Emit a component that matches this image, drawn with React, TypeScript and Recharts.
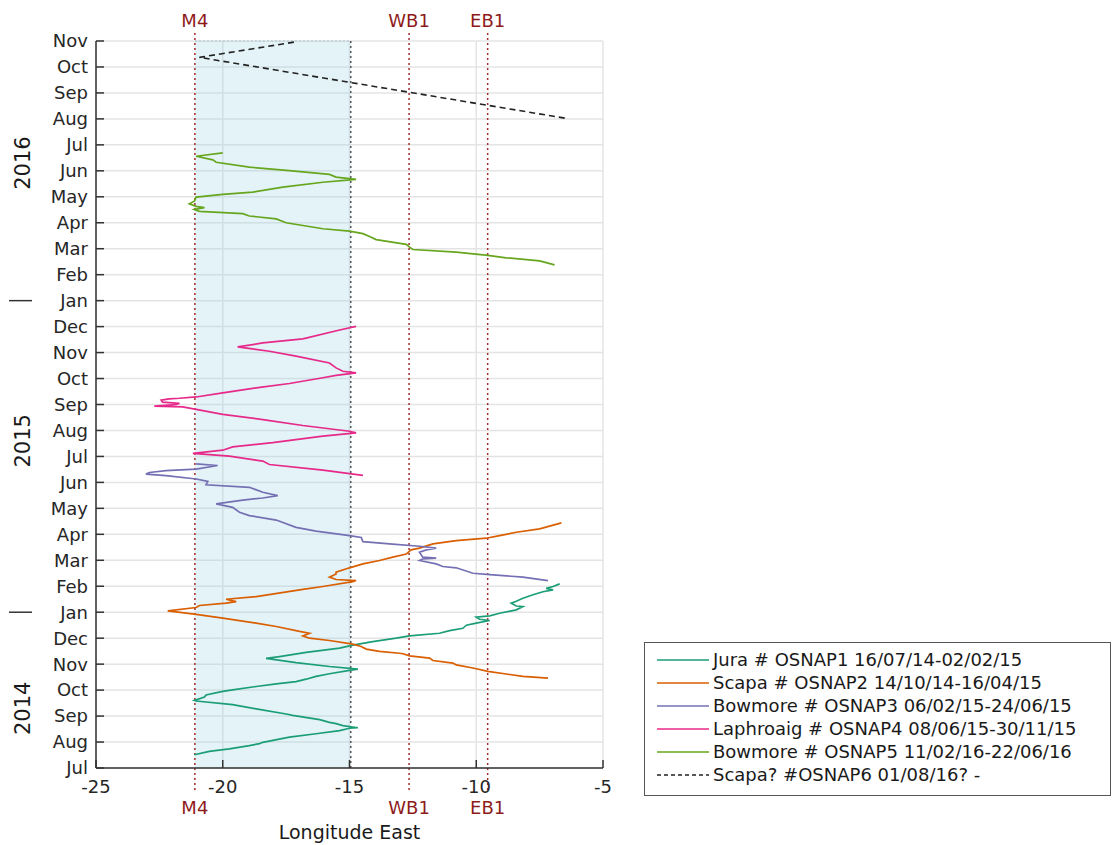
import React from "react";
import {
  ComposedChart,
  Line,
  XAxis,
  YAxis,
  CartesianGrid,
  ReferenceArea,
  ReferenceLine,
} from "recharts";

type Pt = [number, number]; // [longitude east, months since 1 Jul 2014]

const lonTicks = [-25, -20, -15, -10, -5];
const monthTicks = [
  0, 1, 2, 3, 4, 5, 6, 7, 8, 9, 10, 11, 12, 13, 14, 15, 16, 17, 18, 19, 20, 21,
  22, 23, 24, 25, 26, 27, 28,
];
const monthLabels = [
  "Jul", "Aug", "Sep", "Oct", "Nov", "Dec", "Jan", "Feb", "Mar", "Apr", "May",
  "Jun", "Jul", "Aug", "Sep", "Oct", "Nov", "Dec", "Jan", "Feb", "Mar", "Apr",
  "May", "Jun", "Jul", "Aug", "Sep", "Oct", "Nov",
];

const yearLabels = [
  { text: "2014", m: 2.3 },
  { text: "2015", m: 12.6 },
  { text: "2016", m: 23.3 },
];
const yearBreaks = [6, 18];

const moorings = [
  { name: "M4", lon: -21.1 },
  { name: "WB1", lon: -12.65 },
  { name: "EB1", lon: -9.55 },
];
const shelfWest = -21.1;
const shelfEast = -14.95;

const jura: Pt[] = [
  [-21.12, 0.51], [-20.53, 0.64], [-19.74, 0.74], [-18.95, 0.86], [-18.55, 0.94],
  [-18.42, 0.99], [-17.37, 1.19], [-16.32, 1.32], [-15.39, 1.44], [-15.0, 1.53],
  [-14.67, 1.55], [-15.26, 1.63], [-15.53, 1.71], [-15.79, 1.76], [-16.18, 1.86],
  [-17.24, 2.03], [-17.5, 2.08], [-18.68, 2.28], [-19.61, 2.44], [-21.05, 2.58],
  [-21.12, 2.6], [-20.72, 2.73], [-20.66, 2.81], [-20.0, 2.95], [-19.61, 3.01],
  [-18.68, 3.14], [-17.89, 3.24], [-17.11, 3.33], [-16.71, 3.42], [-16.32, 3.53],
  [-15.79, 3.63], [-15.0, 3.76], [-14.67, 3.81], [-15.79, 3.91], [-17.11, 4.06],
  [-18.29, 4.22], [-17.76, 4.29], [-16.71, 4.45], [-15.39, 4.62], [-14.87, 4.73],
  [-14.08, 4.87], [-13.16, 5.0], [-12.63, 5.09], [-11.45, 5.19], [-11.05, 5.29],
  [-10.53, 5.38], [-10.39, 5.5], [-10.0, 5.58], [-9.47, 5.68], [-9.87, 5.73],
  [-10.0, 5.81], [-9.47, 5.86], [-9.08, 5.96], [-8.42, 6.09], [-8.16, 6.22],
  [-8.42, 6.24], [-8.62, 6.35], [-8.42, 6.42], [-8.16, 6.54], [-7.76, 6.67],
  [-7.37, 6.79], [-6.97, 6.86], [-7.24, 6.92], [-6.97, 6.99], [-6.71, 7.09],
];

const scapa: Pt[] = [
  [-7.17, 3.46], [-8.16, 3.53], [-8.82, 3.62], [-9.54, 3.72], [-10.13, 3.85],
  [-10.79, 3.97], [-10.92, 4.04], [-11.71, 4.14], [-11.84, 4.23], [-12.63, 4.32],
  [-12.89, 4.4], [-13.03, 4.42], [-13.82, 4.49], [-14.34, 4.58], [-14.54, 4.68],
  [-14.87, 4.77], [-15.79, 4.91], [-16.58, 5.0], [-16.84, 5.09], [-16.58, 5.19],
  [-16.97, 5.26], [-17.89, 5.45], [-18.68, 5.58], [-20.0, 5.77], [-21.05, 5.92],
  [-22.17, 6.05], [-21.05, 6.18], [-20.92, 6.26], [-19.87, 6.35], [-19.47, 6.41],
  [-19.87, 6.5], [-18.68, 6.6], [-16.84, 6.88], [-16.05, 6.99], [-14.87, 7.18],
  [-14.74, 7.22], [-15.53, 7.26], [-15.79, 7.35], [-15.53, 7.47], [-15.53, 7.54],
  [-15.0, 7.71], [-14.47, 7.86], [-13.82, 7.99], [-13.29, 8.12], [-12.76, 8.24],
  [-12.57, 8.4], [-12.24, 8.47], [-11.71, 8.63], [-10.79, 8.76], [-9.61, 8.85],
  [-9.08, 8.95], [-8.42, 9.08], [-7.5, 9.21], [-6.64, 9.44],
];

const bowmore3: Pt[] = [
  [-7.17, 7.22], [-8.16, 7.35], [-9.47, 7.45], [-10.13, 7.5], [-10.79, 7.71],
  [-11.32, 7.76], [-11.58, 7.86], [-12.24, 7.99], [-12.11, 8.05], [-11.58, 8.08],
  [-12.11, 8.12], [-12.24, 8.31], [-11.97, 8.4], [-11.58, 8.47], [-12.24, 8.54],
  [-13.42, 8.63], [-14.47, 8.72], [-14.54, 8.88], [-15.0, 8.95], [-16.32, 9.12],
  [-17.11, 9.27], [-17.89, 9.55], [-18.95, 9.72], [-19.34, 9.85], [-19.61, 10.04],
  [-20.26, 10.17], [-19.21, 10.32], [-18.42, 10.4], [-17.83, 10.49], [-18.42, 10.62],
  [-18.95, 10.81], [-20.66, 10.91], [-20.59, 11.04], [-21.05, 11.13], [-22.24, 11.26],
  [-23.03, 11.32], [-22.89, 11.38], [-22.24, 11.45], [-21.05, 11.51], [-20.2, 11.65],
  [-21.05, 11.71],
];

const laphroaig: Pt[] = [
  [-14.47, 11.27], [-16.05, 11.47], [-18.16, 11.69], [-18.42, 11.82], [-19.74, 12.01],
  [-21.18, 12.12], [-20.0, 12.24], [-19.61, 12.37], [-18.03, 12.53], [-16.05, 12.78],
  [-14.74, 12.91], [-15.0, 12.97], [-16.84, 13.19], [-18.42, 13.42], [-20.0, 13.62],
  [-21.05, 13.81], [-21.58, 13.91], [-22.7, 13.94], [-21.84, 14.0], [-21.71, 14.04],
  [-22.37, 14.09], [-22.43, 14.17], [-22.11, 14.22], [-21.71, 14.24], [-21.05, 14.29],
  [-20.0, 14.45], [-18.68, 14.64], [-17.37, 14.81], [-16.05, 15.03], [-15.53, 15.12],
  [-14.74, 15.22], [-15.26, 15.28], [-15.53, 15.41], [-15.79, 15.6], [-17.11, 15.86],
  [-18.16, 16.05], [-19.41, 16.22], [-18.42, 16.37], [-16.84, 16.53], [-15.39, 16.87],
  [-14.74, 17.01],
];

const bowmore5: Pt[] = [
  [-6.91, 19.38], [-7.5, 19.53], [-8.82, 19.65], [-9.54, 19.74], [-10.79, 19.87],
  [-12.5, 19.97], [-12.63, 20.06], [-12.76, 20.17], [-13.95, 20.35], [-14.21, 20.47],
  [-14.47, 20.58], [-15.0, 20.68], [-16.05, 20.77], [-17.5, 21.0], [-17.89, 21.15],
  [-18.95, 21.26], [-19.21, 21.35], [-20.92, 21.44], [-21.12, 21.51], [-20.72, 21.58],
  [-21.05, 21.63], [-21.32, 21.73], [-21.12, 21.83], [-21.05, 21.99], [-20.0, 22.09],
  [-18.82, 22.18], [-17.63, 22.37], [-16.05, 22.56], [-14.74, 22.67], [-15.53, 22.76],
  [-15.79, 22.86], [-17.37, 23.01], [-18.95, 23.14], [-20.26, 23.33], [-20.39, 23.42],
  [-21.05, 23.56], [-20.0, 23.69],
];

const scapa6: Pt[] = [
  [-6.51, 25.03], [-20.92, 27.37], [-17.1, 27.97],
];

const series = [
  { key: "osnap1", label: "Jura # OSNAP1 16/07/14-02/02/15", color: "#1b9e77", pts: jura, dash: undefined },
  { key: "osnap2", label: "Scapa # OSNAP2 14/10/14-16/04/15", color: "#d95f02", pts: scapa, dash: undefined },
  { key: "osnap3", label: "Bowmore # OSNAP3 06/02/15-24/06/15", color: "#7570b3", pts: bowmore3, dash: undefined },
  { key: "osnap4", label: "Laphroaig # OSNAP4 08/06/15-30/11/15", color: "#e7298a", pts: laphroaig, dash: undefined },
  { key: "osnap5", label: "Bowmore # OSNAP5 11/02/16-22/06/16", color: "#66a61e", pts: bowmore5, dash: undefined },
  { key: "osnap6", label: "Scapa? #OSNAP6 01/08/16? -", color: "#222222", pts: scapa6, dash: "6 4" },
];

const toRows = (pts: Pt[]) => pts.map(([lon, m]) => ({ lon, m }));

const FONT = "'DejaVu Sans', sans-serif";
const MOORING_RED = "#a52a2a";
const MOORING_TEXT = "#8e1b1b";

function MooringShape(props: any) {
  const { x1, y1, y2, name } = props;
  const top = Math.min(y1, y2);
  const bottom = Math.max(y1, y2);
  return (
    <g>
      <line
        x1={x1}
        x2={x1}
        y1={top - 8}
        y2={bottom + 22}
        stroke={MOORING_RED}
        strokeWidth={1.5}
        strokeDasharray="2 3"
      />
      <text x={x1} y={top - 14} textAnchor="middle" fontSize={18} fontFamily={FONT} fill={MOORING_TEXT}>
        {name}
      </text>
      <text x={x1} y={bottom + 46} textAnchor="middle" fontSize={18} fontFamily={FONT} fill={MOORING_TEXT}>
        {name}
      </text>
    </g>
  );
}

function YearLabel(props: any) {
  const { y1, text } = props;
  return (
    <text
      x={23}
      y={y1}
      transform={`rotate(-90, 23, ${y1})`}
      textAnchor="middle"
      dominantBaseline="central"
      fontSize={21}
      fontFamily={FONT}
      fill="#1a1a1a"
    >
      {text}
    </text>
  );
}

function YearBreak(props: any) {
  const { y1 } = props;
  return <line x1={9} x2={32} y1={y1} y2={y1} stroke="#333" strokeWidth={1.5} />;
}

function LegendBox() {
  return (
    <div
      style={{
        position: "absolute",
        left: 644,
        top: 642,
        width: 467,
        height: 154,
        border: "1.5px solid #555",
        background: "#fff",
        paddingTop: 5,
        boxSizing: "border-box",
        fontFamily: FONT,
        fontSize: 18,
        color: "#1a1a1a",
      }}
    >
      {series.map((s) => (
        <div key={s.key} style={{ display: "flex", alignItems: "center", height: 23 }}>
          <svg width={68} height={10} style={{ flex: "none" }}>
            <line
              x1={12}
              x2={64}
              y1={5}
              y2={5}
              stroke={s.color}
              strokeWidth={s.dash ? 1.5 : 1.6}
              strokeDasharray={s.dash ? "4 3" : undefined}
            />
          </svg>
          <span style={{ whiteSpace: "nowrap", lineHeight: "23px" }}>{s.label}</span>
        </div>
      ))}
    </div>
  );
}

export default function App() {
  return (
    <div
      style={{
        position: "fixed",
        left: 0,
        top: 0,
        width: 1115,
        height: 845,
        background: "#fff",
        fontFamily: FONT,
      }}
    >
      <ComposedChart
        width={1115}
        height={845}
        margin={{ top: 41, right: 512, bottom: 0, left: 36 }}
      >
        <CartesianGrid stroke="#e4e4e4" strokeWidth={1.5} />
        <XAxis
          type="number"
          dataKey="lon"
          domain={[-25, -5]}
          ticks={lonTicks}
          allowDataOverflow
          height={77}
          tickSize={-8}
          tickMargin={20}
          tick={{ fontSize: 18, fill: "#262626", fontFamily: FONT }}
          stroke="#333"
          strokeWidth={1.5}
          label={{
            value: "Longitude East",
            position: "insideBottom",
            offset: 6,
            fontSize: 19,
            fontFamily: FONT,
            fill: "#1a1a1a",
          }}
        />
        <YAxis
          type="number"
          domain={[0, 28]}
          ticks={monthTicks}
          interval={0}
          allowDataOverflow
          width={60}
          tickSize={-8}
          tickMargin={16}
          tickFormatter={(v: number) => monthLabels[v] ?? ""}
          tick={{ fontSize: 18, fill: "#262626", fontFamily: FONT }}
          stroke="#333"
          strokeWidth={1.5}
        />
        <ReferenceArea
          x1={shelfWest}
          x2={shelfEast}
          y1={0}
          y2={28}
          fill="#8ecfe0"
          fillOpacity={0.25}
          stroke="none"
        />
        <ReferenceLine
          segment={[
            { x: shelfWest, y: 28 },
            { x: shelfEast, y: 28 },
          ]}
          stroke="#b6cbd2"
          strokeWidth={1.5}
          strokeDasharray="2 2"
        />
        <ReferenceLine x={shelfEast} stroke="#555" strokeWidth={1.5} strokeDasharray="2 3" />
        {moorings.map((mo) => (
          <ReferenceLine
            key={mo.name}
            x={mo.lon}
            shape={(p: any) => <MooringShape {...p} name={mo.name} />}
          />
        ))}
        {yearLabels.map((yl) => (
          <ReferenceLine key={yl.text} y={yl.m} shape={(p: any) => <YearLabel {...p} text={yl.text} />} />
        ))}
        {yearBreaks.map((yb) => (
          <ReferenceLine key={`yb${yb}`} y={yb} shape={(p: any) => <YearBreak {...p} />} />
        ))}
        {series.map((s) => (
          <Line
            key={s.key}
            data={toRows(s.pts)}
            dataKey="m"
            type="linear"
            stroke={s.color}
            strokeWidth={s.dash ? 1.6 : 1.7}
            strokeDasharray={s.dash}
            dot={false}
            activeDot={false}
            isAnimationActive={false}
          />
        ))}
      </ComposedChart>
      <LegendBox />
    </div>
  );
}
